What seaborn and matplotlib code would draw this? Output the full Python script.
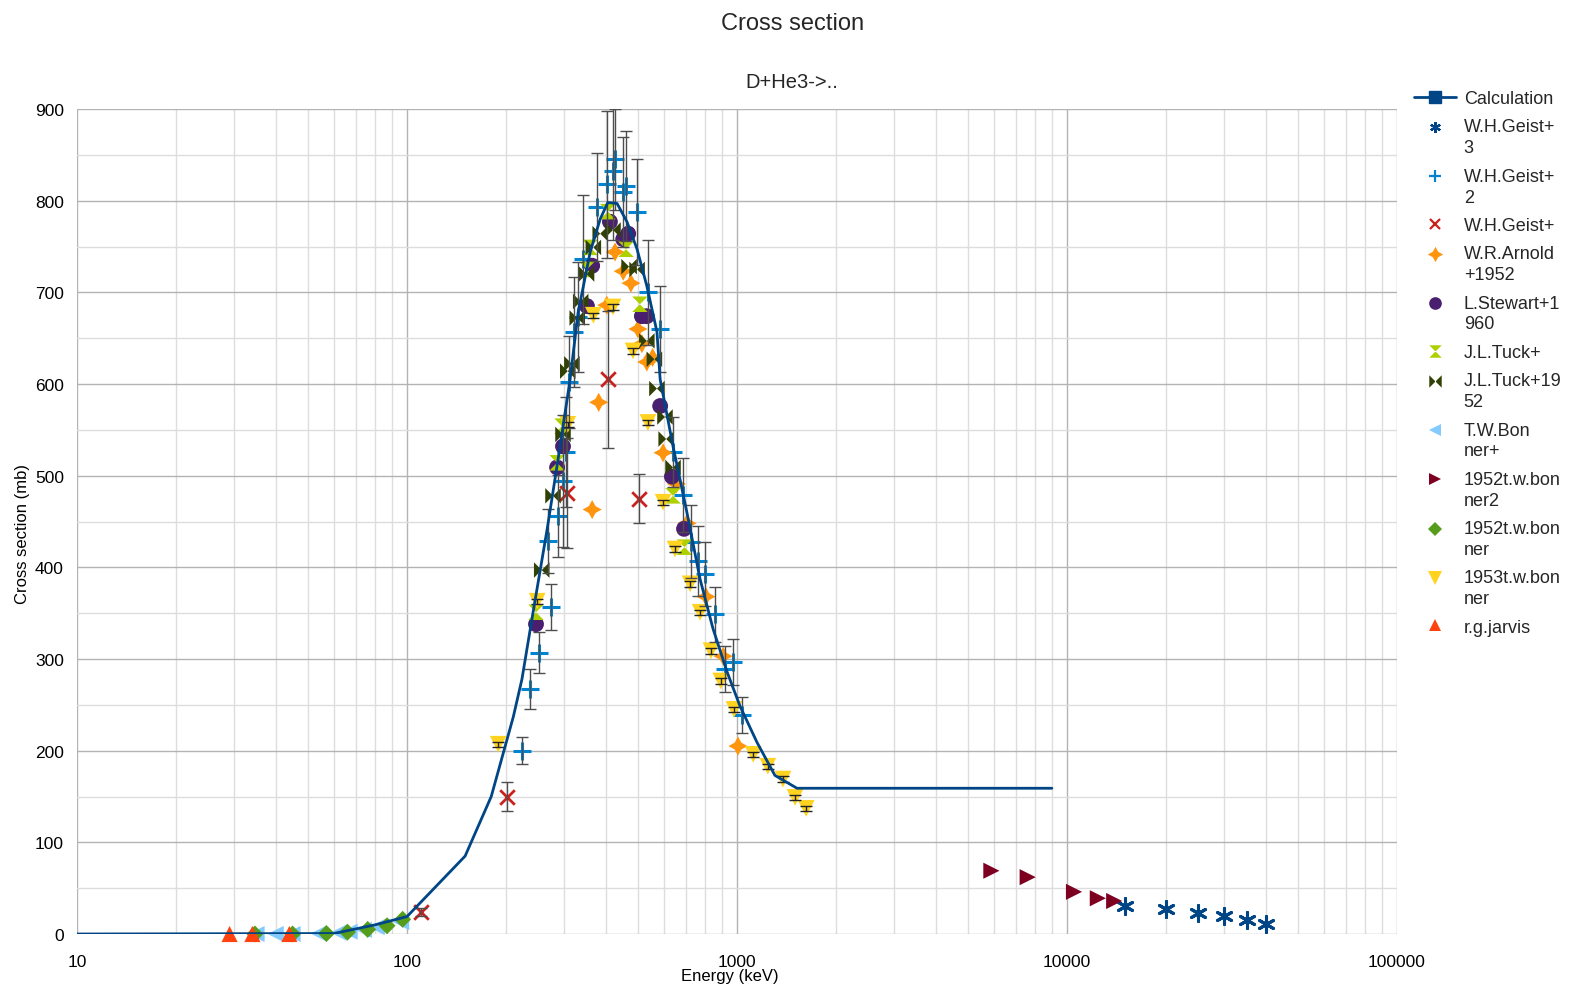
import matplotlib
matplotlib.use("Agg")
import numpy as np
import pandas as pd
import matplotlib.pyplot as plt
import matplotlib.ticker as mticker
from matplotlib.lines import Line2D
from matplotlib.path import Path
from matplotlib.legend_handler import HandlerLine2D
import seaborn as sns

# ---------------- data (energy in keV, cross section in mb) ----------------
calc_E = [10, 60, 80, 100, 150, 180, 210, 223, 241, 266, 291, 312, 330, 359, 385, 406,
          433, 464, 498, 533, 572, 585, 640, 705, 773, 846, 933, 1020, 1150, 1303, 1520, 9000]
calc_Y = [0, 0.5, 10, 19, 85, 150, 237, 278, 351, 442, 532, 605, 678, 744, 780, 798,
          797, 777, 747, 707, 657, 605, 532, 460, 387, 333, 286, 249, 209, 173, 159, 159]

geist3_E = [15000, 20000, 25000, 30000, 35000, 40000]
geist3_Y = [31, 27, 23, 20, 15, 11]

geist2_E = [223, 236, 251, 273, 267, 287, 297, 303, 310, 321, 330, 341, 377, 403, 421,
            427, 452, 461, 498, 537, 585, 640, 686, 726, 762, 800, 857, 920, 973, 1035]
geist2_Y = [200, 267, 307, 357, 429, 456, 494, 526, 602, 657, 673, 736, 793, 818, 832,
            845, 809, 816, 788, 700, 660, 526, 479, 428, 407, 393, 349, 289, 297, 239]
geist2_err = [15, 22, 22, 25, 35, 45, 72, 60, 50, 60, 60, 70, 59, 80, 75,
              55, 60, 60, 58, 57, 47, 38, 40, 40, 38, 35, 30, 25, 25, 20]

geist1_E = [110, 201, 305, 406, 505]
geist1_Y = [24, 150, 481, 605, 475]
geist1_err = [4, 16, 60, 75, 27]

arnold_E = [364, 381, 403, 427, 452, 477, 501, 515, 533, 555, 597, 655, 705, 805, 908, 1007]
arnold_Y = [463, 580, 686, 744, 723, 710, 660, 644, 624, 629, 525, 491, 448, 368, 303, 205]

stewart_E = [246, 285, 297, 351, 364, 412, 452, 468, 515, 533, 585, 635, 691]
stewart_Y = [338, 509, 532, 685, 729, 777, 758, 764, 674, 674, 576, 499, 442]

tuck1_E = [246, 285, 295, 351, 359, 406, 461, 508, 640, 693]
tuck1_Y = [351, 514, 554, 725, 749, 788, 747, 687, 478, 422]

tuck2_E = [256, 277, 297, 307, 316, 328, 336, 350, 367, 385, 421, 471, 498, 533, 562,
           572, 605, 610, 640]
tuck2_Y = [397, 478, 545, 614, 622, 672, 690, 720, 749, 764, 768, 728, 725, 647, 627,
           595, 564, 540, 509]

bonner_plus_E = [35, 40, 45, 54, 62, 67, 74, 81, 96]
bonner_plus_Y = [0, 0, 0, 0.5, 1.5, 2.5, 4.5, 7.5, 13]

bonner2_E = [5900, 7600, 10500, 12400, 13900]
bonner2_Y = [69, 62, 46, 39, 36]

bonner52_E = [34.6, 45, 57, 66, 76, 87, 97]
bonner52_Y = [0, 0, 0.5, 2, 5, 9, 16]

bonner53_E = [189, 248, 307, 367, 421, 484, 537, 597, 649, 721, 773, 834, 893, 979,
              1120, 1240, 1378, 1499, 1620]
bonner53_Y = [207, 363, 556, 675, 684, 636, 558, 471, 420, 382, 351, 309, 276, 245,
              196, 183, 169, 149, 137]
bonner53_err = 3

jarvis_E = [29, 34, 44]
jarvis_Y = [0, 0, 0]

x_ticks = [10, 100, 1000, 10000, 100000]
y_ticks = [0, 100, 200, 300, 400, 500, 600, 700, 800, 900]

# ---------------- style ----------------
sns.set_theme(style="white")
plt.rcParams['font.family'] = ['Liberation Sans', 'DejaVu Sans']

W, H = 1571, 987
fig = plt.figure(figsize=(W / 100, H / 100), dpi=100)
L, R, T, B = 77, 1397, 110, 935
ax = fig.add_axes([L / W, (H - B) / H, (R - L) / W, (B - T) / H])
ax.set_xscale('log')

hourglass = Path([(-1, 1), (1, 1), (-1, -1), (1, -1), (-1, 1)],
                 [Path.MOVETO, Path.LINETO, Path.LINETO, Path.LINETO, Path.CLOSEPOLY])
bowtie = Path([(-1, 1), (-1, -1), (1, 1), (1, -1), (-1, 1)],
              [Path.MOVETO, Path.LINETO, Path.LINETO, Path.LINETO, Path.CLOSEPOLY])
asterisk = (6, 2, 0)
star4 = (4, 1, 0)

C_CALC = '#004586'
series = [
    # name, legend label, E, Y, color, marker, size, filled, lw
    ("W.H.Geist+3", "W.H.Geist+\n3", geist3_E, geist3_Y, '#004586', asterisk, 130, False, 2.2),
    ("W.H.Geist+2", "W.H.Geist+\n2", geist2_E, geist2_Y, '#0084d1', '+', 170, False, 2.2),
    ("W.H.Geist+", "W.H.Geist+", geist1_E, geist1_Y, '#c9211e', 'x', 110, False, 2.0),
    ("W.R.Arnold+1952", "W.R.Arnold\n+1952", arnold_E, arnold_Y, '#ff950e', star4, 190, True, 0),
    ("L.Stewart+1960", "L.Stewart+1\n960", stewart_E, stewart_Y, '#4b1f6f', 'o', 130, True, 0),
    ("J.L.Tuck+", "J.L.Tuck+", tuck1_E, tuck1_Y, '#aecf00', hourglass, 125, True, 0),
    ("J.L.Tuck+1952", "J.L.Tuck+19\n52", tuck2_E, tuck2_Y, '#314004', bowtie, 125, True, 0),
    ("T.W.Bonner+", "T.W.Bon\nner+", bonner_plus_E, bonner_plus_Y, '#83caff', '<', 135, True, 0),
    ("1952t.w.bonner2", "1952t.w.bon\nner2", bonner2_E, bonner2_Y, '#7e0021', '>', 135, True, 0),
    ("1952t.w.bonner", "1952t.w.bon\nner", bonner52_E, bonner52_Y, '#579d1c', 'D', 75, True, 0),
    ("1953t.w.bonner", "1953t.w.bon\nner", bonner53_E, bonner53_Y, '#ffd320', 'v', 145, True, 0),
    ("r.g.jarvis", "r.g.jarvis", jarvis_E, jarvis_Y, '#ff420e', '^', 135, True, 0),
]

for name, lab, E, Y, col, mk, s, filled, lw in series:
    df = pd.DataFrame({"E": E, "Y": Y})
    if filled:
        sns.scatterplot(data=df, x="E", y="Y", ax=ax, marker=mk, s=s, color=col,
                        edgecolor='none', linewidth=0, zorder=3, legend=False,
                        clip_on=False)
    else:
        sns.scatterplot(data=df, x="E", y="Y", ax=ax, marker=mk, s=s, color=col,
                        linewidth=lw, zorder=3, legend=False, clip_on=False)

# error bars
eb_kw = dict(fmt='none', ecolor='#4d4d4d', elinewidth=1.0, capsize=4, capthick=1.0, zorder=3.5)
ax.errorbar(geist2_E, geist2_Y, yerr=geist2_err, **eb_kw)
ax.errorbar(geist1_E, geist1_Y, yerr=geist1_err, **eb_kw)
ax.errorbar(bonner53_E, bonner53_Y, yerr=bonner53_err, fmt='none', ecolor='#222222',
            elinewidth=1.0, capsize=4, capthick=1.0, zorder=3.5)

# calculation line
sns.lineplot(x=calc_E, y=calc_Y, ax=ax, color=C_CALC, linewidth=2.0, zorder=5,
             legend=False, estimator=None, sort=False)

# axes
ax.set_xlim(10, 100000)
ax.set_ylim(0, 900)
ax.set_xticks(x_ticks)
ax.xaxis.set_major_formatter(mticker.FuncFormatter(lambda v, p: f"{int(round(v))}"))
ax.xaxis.set_minor_locator(mticker.LogLocator(base=10, subs=np.arange(2, 10), numticks=20))
ax.xaxis.set_minor_formatter(mticker.NullFormatter())
ax.set_yticks(y_ticks)
ax.yaxis.set_minor_locator(mticker.MultipleLocator(50))

ax.grid(which='major', color='#b3b3b3', linewidth=1.0, zorder=0)
ax.grid(which='minor', color='#dddddd', linewidth=1.0, zorder=0)
ax.set_axisbelow(True)
for sp in ax.spines.values():
    sp.set_visible(False)
ax.tick_params(which='major', length=6, width=1, color='#b3b3b3', labelsize=12.5,
               labelcolor='#000000', pad=3.5)
ax.tick_params(axis='x', which='major', pad=8.5)
ax.tick_params(which='minor', length=0)

ax.set_xlabel("Energy (keV)", fontsize=12, color='black')
ax.set_ylabel("Cross section (mb)", fontsize=12, color='black')
ax.xaxis.set_label_coords(0.5 - 7 / 1320, -(977 - B) / (B - T))
ax.xaxis.label.set_va('center')
ax.yaxis.set_label_coords(-(L - 23) / (R - L), 0.5 - (534 - (T + B) / 2) / (B - T))
ax.yaxis.label.set_va('center')
ax.yaxis.label.set_ha('center')

fig.text(793 / W, 1 - 24 / H, "Cross section", ha='center', va='center', fontsize=17)
fig.text(792 / W, 1 - 83 / H, "D+He3->..", ha='center', va='center', fontsize=14.5)

# legend
class ShiftHandler(HandlerLine2D):
    def __init__(self, shift=0.0, **kw):
        super().__init__(**kw)
        self.shift = shift

    def create_artists(self, legend, orig_handle, xdescent, ydescent, width, height,
                       fontsize, trans):
        return super().create_artists(legend, orig_handle, xdescent,
                                      ydescent - 2 * self.shift, width, height,
                                      fontsize, trans)

handles, labels, hmap = [], [], {}
h0 = Line2D([], [], color=C_CALC, marker='s', markersize=8, linewidth=2.0)
handles.append(h0); labels.append("Calculation")
for name, lab, E, Y, col, mk, s, filled, lw in series:
    ms = np.sqrt(s) * 0.8
    if filled:
        h = Line2D([], [], linestyle='none', marker=mk, markersize=ms, color=col,
                   markeredgewidth=0)
    else:
        h = Line2D([], [], linestyle='none', marker=mk, markersize=ms * 0.85, color=col,
                   markeredgewidth=1.6)
    handles.append(h); labels.append(lab)
    if "\n" in lab:
        hmap[h] = ShiftHandler(shift=7.5)

leg = fig.legend(handles, labels, handler_map=hmap, loc='upper left',
                 bbox_to_anchor=(1414 / W, 1 - 91 / H), frameon=False, borderpad=0,
                 borderaxespad=0, fontsize=13, handlelength=2.3, handletextpad=0.45,
                 labelspacing=0.63)
for t in leg.get_texts():
    t.set_linespacing(1.3)

fig.savefig("out.png", dpi=100)
